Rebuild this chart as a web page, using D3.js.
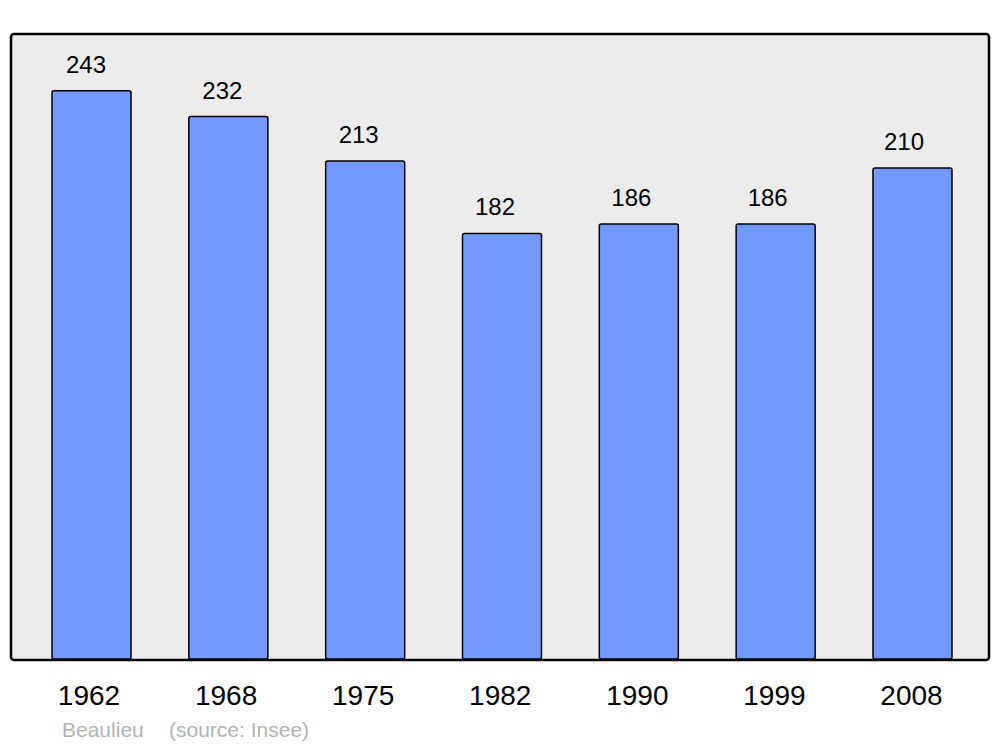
<!DOCTYPE html>
<html>
<head>
<meta charset="utf-8">
<script src="https://cdn.jsdelivr.net/npm/d3@7"></script>
<style>
  html, body { margin: 0; padding: 0; background: #ffffff; }
  svg { display: block; font-family: "Liberation Sans", Arial, sans-serif; }
</style>
</head>
<body>
<svg id="chart" width="1000" height="747"></svg>
<script>
const years = ["1962", "1968", "1975", "1982", "1990", "1999", "2008"];
const population = [243, 232, 213, 182, 186, 186, 210];
const placeName = "Beaulieu";
const sourceLabel = "(source: Insee)";

const svg = d3.select("#chart");

const panel = { left: 11, top: 34, right: 989, bottom: 660 };

svg.append("rect")
  .attr("x", panel.left).attr("y", panel.top)
  .attr("width", panel.right - panel.left)
  .attr("height", panel.bottom - panel.top)
  .attr("rx", 3).attr("ry", 3)
  .attr("fill", "#ececec")
  .attr("stroke", "#000").attr("stroke-width", 2.5);

const x = d3.scaleBand()
  .domain(years)
  .range([23.1, 980.9])
  .paddingInner(0.4226)
  .paddingOuter(0.2113);

// label positions (slightly offset from bar centres, as in the original)
const xValueLabel = d3.scalePoint().domain(years).range([86, 904]);
const xYearLabel = d3.scalePoint().domain(years).range([88.5, 911]);

const y = d3.scaleLinear()
  .domain([0, d3.max(population) * 1.1])
  .range([659, 34]);

const data = years.map((yr, i) => ({ year: yr, value: population[i] }));

svg.append("g").selectAll("rect")
  .data(data)
  .join("rect")
  .attr("x", d => x(d.year))
  .attr("y", d => y(d.value))
  .attr("width", x.bandwidth())
  .attr("height", d => y(0) - y(d.value))
  .attr("rx", 2).attr("ry", 2)
  .attr("fill", "#7399ff")
  .attr("stroke", "#000").attr("stroke-width", 1.5);

svg.append("g").selectAll("text")
  .data(data)
  .join("text")
  .attr("x", d => xValueLabel(d.year))
  .attr("y", d => y(d.value) - 18)
  .attr("text-anchor", "middle")
  .attr("font-size", 24)
  .attr("fill", "#000")
  .text(d => d.value);

const axis = d3.axisBottom(xYearLabel).tickSize(0).tickPadding(0);
const axisG = svg.append("g").call(axis);
axisG.select(".domain").remove();
axisG.selectAll("text")
  .attr("y", 705)
  .attr("dy", null)
  .attr("font-size", 28)
  .attr("font-family", "Liberation Sans, Arial, sans-serif")
  .attr("fill", "#000");

svg.append("text")
  .attr("x", 62).attr("y", 737)
  .attr("font-size", 21)
  .attr("fill", "#b3b3b3")
  .text(placeName);
svg.append("text")
  .attr("x", 169).attr("y", 737)
  .attr("font-size", 21)
  .attr("fill", "#b3b3b3")
  .text(sourceLabel);
</script>
</body>
</html>
